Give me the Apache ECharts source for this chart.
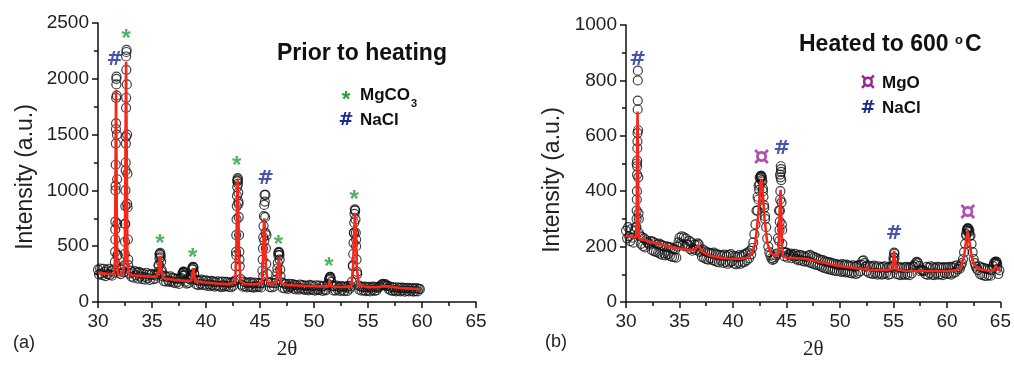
<!DOCTYPE html>
<html><head><meta charset="utf-8">
<script src="https://cdn.jsdelivr.net/npm/echarts@6/dist/echarts.min.js"></script>
<style>html,body{margin:0;padding:0;background:#fff}#c{width:1014px;height:365px}</style>
</head><body><div id="c"></div>
<script>
// ---------- axes / tick labels ----------
const xTicks = [30, 35, 40, 45, 50, 55, 60, 65];
const yTicksA = [0, 500, 1000, 1500, 2000, 2500];
const yTicksB = [0, 200, 400, 600, 800, 1000];

// ---------- panel (a): prior to heating ----------
const scanA_start = 30.0, scanA_step = 0.1;
const scanA_counts = [
 290,248,300,255,240,296,270,232,285,250,
 298,244,276,236,290,262,650,1950,420,262,
 300,250,288,310,268,700,2200,880,330,255,
 282,228,266,218,276,238,264,210,270,228,
 258,205,252,224,200,262,215,247,198,242,
 252,204,244,210,236,250,330,430,400,270,
 230,188,236,182,224,194,180,229,186,216,
 174,212,168,205,180,162,210,215,252,270,
 246,182,165,212,172,203,232,300,312,250,
 198,158,195,151,190,163,200,150,188,155,
 193,144,184,158,141,189,152,182,138,178,
 147,186,142,177,134,183,150,138,180,142,
 178,137,172,132,176,145,180,195,420,1080,
 900,380,205,154,137,183,142,174,131,171,
 138,178,133,166,128,173,140,132,170,138,
 166,131,170,230,550,960,600,250,175,134,
 174,130,168,137,170,200,300,440,420,230,
 176,127,166,122,160,138,118,163,132,140,
 160,120,153,112,149,126,110,157,122,151,
 114,148,108,145,118,104,153,113,146,109,
 141,102,150,116,107,147,110,138,100,145,
 113,105,148,160,205,225,180,143,104,142,
 102,146,111,134,99,143,109,137,98,139,
 131,100,144,120,140,180,320,620,820,560,
 250,150,110,140,101,134,106,138,97,132,
 104,136,96,129,108,138,99,133,105,127,
 135,140,150,158,162,152,160,145,146,118,
 139,104,134,100,128,106,95,132,102,125,
 96,129,102,126,92,123,99,127,94,121,
 100,124,93,120,98,125,95,118,115
];
const peakObsA = [
 [31.56,360],[31.58,450],[31.6,560],[31.61,720],[31.62,1000],[31.63,1040],[31.64,1230],[31.65,1420],[31.66,1550],[31.67,1600],[31.68,1830],[31.7,2000],[31.71,2020],[31.73,1850],[31.75,1500],[31.77,1100],[31.79,700],[31.82,420],
 [32.46,330],[32.48,430],[32.5,540],[32.52,700],[32.53,860],[32.54,1000],[32.56,1180],[32.57,1250],[32.58,1420],[32.59,1480],[32.6,1740],[32.61,1830],[32.62,2080],[32.63,2240],[32.64,2260],[32.67,1950],[32.7,1500],[32.72,1150],[32.74,850],[32.77,560],[32.8,380],
 [35.6,270],[35.65,330],[35.69,390],[35.72,430],[35.76,440],[35.8,420],[35.84,360],[35.88,290],
 [37.82,235],[37.87,262],[37.92,272],[37.97,262],[38.02,236],
 [38.7,240],[38.75,290],[38.8,315],[38.85,305],[38.9,260],
 [42.75,320],[42.78,450],[42.8,600],[42.83,740],[42.85,860],[42.87,950],[42.89,1030],[42.91,1090],[42.93,1110],[42.95,1100],[42.97,1060],[42.99,980],[43.01,880],[43.03,760],[43.06,600],[43.09,450],[43.13,320],
 [45.22,280],[45.25,380],[45.28,480],[45.3,580],[45.33,680],[45.36,770],[45.39,870],[45.42,960],[45.45,900],[45.48,760],[45.51,620],[45.54,480],[45.58,340],
 [46.6,260],[46.65,350],[46.7,420],[46.74,450],[46.78,440],[46.82,380],[46.87,290],
 [51.4,195],[51.45,218],[51.5,225],[51.55,210],
 [53.6,330],[53.63,430],[53.66,530],[53.69,620],[53.72,710],[53.75,790],[53.78,830],[53.81,820],[53.84,740],[53.87,620],[53.9,500],[53.94,380],[53.98,270]
];
const fitA = [
 [30,262],[30.8,252],[31.5,246],[31.58,420],[31.63,1300],[31.67,1900],[31.71,1300],[31.76,420],[31.85,245],[32.0,238],[32.3,242],
 [32.48,380],[32.54,1300],[32.6,2150],[32.66,1300],[32.72,380],[32.85,250],[33.2,240],[34.2,232],[35.4,225],
 [35.62,270],[35.69,360],[35.75,415],[35.81,360],[35.88,260],[36.1,212],[37,200],[38,190],[38.65,192],
 [38.76,260],[38.82,300],[38.88,255],[39.0,188],[40,175],[41,166],[42,160],[42.7,175],
 [42.8,420],[42.87,850],[42.93,1100],[42.99,850],[43.06,420],[43.2,185],[43.6,162],[44.5,158],[45.15,168],
 [45.28,400],[45.35,680],[45.4,750],[45.46,620],[45.53,350],[45.68,175],[46.0,162],[46.52,175],
 [46.65,300],[46.75,400],[46.83,290],[46.95,165],[47.5,152],[49,145],[50.5,140],[51.35,140],
 [51.44,190],[51.48,205],[51.53,185],[51.62,140],[52.5,135],[53.45,140],
 [53.62,320],[53.72,640],[53.8,800],[53.88,630],[53.97,300],[54.15,150],[55,133],[56,134],[56.5,142],[57.1,138],[58,125],[59,120],[59.8,116]
];
const annotA_2theta = [31.57, 32.6, 35.74, 38.77, 42.84, 45.52, 46.7, 51.39, 53.73];
const annotA_counts = [2168, 2408, 573, 448, 1272, 1102, 564, 367, 968];
const annotA_phase  = ['NaCl','MgCO3','MgCO3','MgCO3','MgCO3','NaCl','MgCO3','MgCO3','MgCO3'];

// ---------- panel (b): heated to 600 °C ----------
const scanB_start = 30.0, scanB_step = 0.1;
const scanB_counts = [
 258,230,270,237,220,263,232,214,256,270,
 500,800,300,240,210,234,202,230,197,223,
 216,212,207,220,188,218,184,213,181,208,
 178,211,174,206,170,203,176,168,201,172,
 198,166,196,163,192,162,189,160,200,215,
 232,211,237,205,233,201,229,208,207,221,
 191,215,185,193,207,188,205,212,208,181,
 185,163,189,159,183,155,179,153,177,157,
 175,151,178,148,173,145,171,143,169,149,
 167,141,171,145,165,138,169,143,173,147,
 167,139,165,136,163,142,169,138,165,143,
 171,145,175,151,179,158,185,172,195,215,
 245,280,330,380,420,450,455,440,400,350,
 310,270,230,200,180,168,158,152,155,162,
 168,175,230,330,460,470,260,180,165,178,
 178,160,172,168,175,158,170,165,174,156,
 166,150,170,152,168,148,165,146,162,148,
 167,143,170,141,165,138,162,135,159,133,
 155,131,152,127,151,123,147,121,145,119,
 143,117,141,115,139,113,137,111,135,113,
 133,109,137,111,132,107,135,109,131,105,
 129,103,132,106,127,101,131,105,133,111,
 135,148,150,140,128,111,132,105,129,103,
 127,101,131,105,125,99,129,103,124,99,
 127,101,129,103,123,98,127,101,125,130,
 160,175,120,101,127,99,125,97,123,101,
 125,98,127,101,123,97,126,103,129,128,
 135,142,145,140,130,111,117,113,113,111,
 101,127,98,124,103,129,99,125,97,122,
 103,127,99,125,101,123,97,126,103,124,
 101,125,103,127,99,125,105,129,108,132,
 118,126,120,132,140,155,180,210,240,258,
 265,258,240,210,180,155,140,128,120,115,
 129,101,125,97,123,95,121,93,119,97,
 117,95,115,130,140,145,138,120,101,115
];
const peakObsB = [
 [30.97,270],[30.99,300],[31.0,330],[31.01,370],[31.02,400],[31.03,460],[31.04,490],[31.05,510],[31.06,555],[31.07,580],[31.08,610],[31.09,695],[31.1,727],[31.11,835],[31.13,620],[31.15,450],[31.17,320],[31.19,250],
 [42.3,330],[42.38,370],[42.45,405],[42.5,425],[42.55,445],[42.6,452],[42.65,455],[42.7,450],[42.75,435],[42.8,410],[42.85,380],[42.92,340],[43.0,300],
 [44.32,220],[44.35,260],[44.37,290],[44.39,330],[44.41,370],[44.43,400],[44.45,450],[44.47,490],[44.49,480],[44.51,440],[44.54,360],[44.57,280],[44.61,210],
 [55.02,150],[55.06,178],[55.1,160],
 [61.8,245],[61.85,258],[61.9,265],[61.95,266],[62.0,262],[62.05,252],[62.1,238],
 [64.55,140],[64.6,146],[64.65,144],[64.7,135]
];
const fitB = [
 [30,240],[30.5,236],[30.95,233],[31.0,300],[31.04,550],[31.08,688],[31.12,520],[31.17,260],[31.25,228],[32,220],[33,210],[34,200],[35,193],[36,188],[36.5,190],
 [36.75,205],[36.9,200],[37.2,180],[37.8,168],[38.5,162],[39.5,157],[40.5,155],[41.3,160],[41.8,175],[42.1,215],[42.35,310],[42.55,410],[42.66,445],[42.78,400],[42.95,300],[43.2,215],[43.5,180],[43.9,166],
 [44.25,172],[44.33,280],[44.4,380],[44.45,405],[44.5,340],[44.57,210],[44.65,165],[45,160],[46,158],[46.8,156],[47.5,150],[48.5,142],[49.5,133],[50.5,127],[51.5,122],[52.4,118],[52.55,126],[52.7,116],
 [54,115],[54.95,118],[55.0,160],[55.06,185],[55.13,160],[55.25,118],[56,113],[58,112],[60,112],[60.8,114],[61.3,125],[61.6,165],[61.8,225],[61.94,255],[62.08,225],[62.3,165],[62.6,130],[63,118],
 [64,112],[64.4,115],[64.55,130],[64.63,135],[64.72,125],[64.85,115],[65,113]
];
const annotB_2theta = [31.08, 42.66, 44.57, 55.06, 61.94];
const annotB_counts = [874, 522, 553, 245, 325];
const annotB_phase  = ['NaCl','MgO','NaCl','NaCl','MgO'];

// ---------- styling ----------
const FONT = 'Liberation Sans, Arial, sans-serif';
const PHASE = {
  MgCO3: {glyph: '*', color: '#23a03c', size: 24, dy: 6, font: FONT},
  NaCl:  {glyph: '#', color: '#1c2a96', size: 20, dy: 0, font: 'DejaVu Sans, sans-serif'},
  MgO:   {glyph: '¤', color: '#a0229a', size: 26, dy: 1, font: 'DejaVu Sans, sans-serif'}
};

function scanData(start, step, counts, extra) {
  return counts.map((v, i) => [+(start + i * step).toFixed(2), v]).concat(extra);
}
function annotData(xs, ys, ph) {
  return xs.map((x, i) => ({
    value: [x, ys[i]], name: ph[i],
    label: {color: PHASE[ph[i]].color, fontSize: PHASE[ph[i]].size, fontFamily: PHASE[ph[i]].font, offset: [0, PHASE[ph[i]].dy]}
  }));
}
function xAxis(gi) {
  return {
    type: 'value', gridIndex: gi, min: xTicks[0], max: xTicks[xTicks.length - 1], interval: xTicks[1] - xTicks[0],
    name: '2θ', nameLocation: 'middle', nameGap: 37,
    nameTextStyle: {fontFamily: 'Liberation Serif, serif', fontSize: 21, color: '#222'},
    axisLine: {lineStyle: {color: '#111', width: 1.5}},
    axisTick: {length: 6, lineStyle: {color: '#111', width: 1.5}},
    minorTick: {show: true, splitNumber: 2, length: 4, lineStyle: {color: '#111', width: 1.5}},
    splitLine: {show: false}, minorSplitLine: {show: false},
    axisLabel: {fontSize: 19, color: '#222', margin: 10, fontFamily: FONT, formatter: v => String(v)}
  };
}
function yAxis(gi, ticks) {
  return {
    type: 'value', gridIndex: gi, min: ticks[0], max: ticks[ticks.length - 1], interval: ticks[1] - ticks[0],
    axisLine: {show: true, lineStyle: {color: '#111', width: 1.5}},
    axisTick: {show: true, length: 6, lineStyle: {color: '#111', width: 1.5}},
    minorTick: {show: true, splitNumber: 2, length: 4, lineStyle: {color: '#111', width: 1.5}},
    splitLine: {show: false}, minorSplitLine: {show: false},
    axisLabel: {fontSize: 19, color: '#222', margin: 9, fontFamily: FONT, formatter: v => String(v)}
  };
}
function obsSeries(gi, data) {
  return {type: 'scatter', xAxisIndex: gi, yAxisIndex: gi, data, symbol: 'circle', symbolSize: 9,
    itemStyle: {color: 'rgba(255,255,255,0)', borderColor: '#111', borderWidth: 1.2},
    silent: true, z: 2, animation: false};
}
function fitSeries(gi, data) {
  return {type: 'line', xAxisIndex: gi, yAxisIndex: gi, data, showSymbol: false, symbol: 'none',
    lineStyle: {color: '#f5281c', width: 2.6}, silent: true, z: 3, animation: false};
}
function annotSeries(gi, data) {
  return {type: 'scatter', xAxisIndex: gi, yAxisIndex: gi, data, symbol: 'circle', symbolSize: 1,
    itemStyle: {color: 'rgba(0,0,0,0)'}, silent: true, z: 4, animation: false,
    label: {show: true, position: 'inside', fontWeight: 'bold', fontFamily: FONT,
      formatter: p => PHASE[p.name].glyph}};
}
function legendItems(x, y, rows) {
  const out = [];
  rows.forEach((r, i) => {
    const ph = PHASE[r.phase];
    out.push({type: 'text', x: x, y: y + i * r.gap + (ph.dy * 0.8), style: {text: ph.glyph, fill: ph.color,
      fontFamily: ph.font, fontWeight: 'bold', fontSize: ph.size - 2, align: 'center', verticalAlign: 'middle'}});
    out.push({type: 'text', x: x + 14, y: y + i * r.gap, style: {text: r.text, fill: '#111',
      fontFamily: FONT, fontWeight: 'bold', fontSize: 17, align: 'left', verticalAlign: 'middle',
      rich: {sub: {fontSize: 11, fontWeight: 'bold', fontFamily: FONT, verticalAlign: 'bottom', padding: [0, 0, -6, 1]}}}});
  });
  return out;
}
function yName(x, y) {
  return {type: 'text', x: x, y: y, rotation: Math.PI / 2, style: {text: 'Intensity (a.u.)', fill: '#222',
    fontFamily: FONT, fontSize: 23, align: 'center', verticalAlign: 'middle'}};
}

const chart = echarts.init(document.getElementById('c'), null, {renderer: 'canvas'});
chart.setOption({
  backgroundColor: '#fff',
  animation: false,
  grid: [
    {left: 98, right: 538, top: 23, bottom: 63},
    {left: 626, right: 10, top: 25, bottom: 62}
  ],
  xAxis: [xAxis(0), xAxis(1)],
  yAxis: [yAxis(0, yTicksA), yAxis(1, yTicksB)],
  series: [
    obsSeries(0, scanData(scanA_start, scanA_step, scanA_counts, peakObsA)),
    fitSeries(0, fitA),
    annotSeries(0, annotData(annotA_2theta, annotA_counts, annotA_phase)),
    obsSeries(1, scanData(scanB_start, scanB_step, scanB_counts, peakObsB)),
    fitSeries(1, fitB),
    annotSeries(1, annotData(annotB_2theta, annotB_counts, annotB_phase))
  ],
  graphic: [
    yName(26, 177),
    yName(553, 180),
    {type: 'text', x: 277, y: 54, style: {text: 'Prior to heating', fill: '#111', fontFamily: FONT,
      fontWeight: 'bold', fontSize: 23, verticalAlign: 'middle'}},
    {type: 'text', x: 799, y: 45, style: {text: 'Heated to 600 {sup|o}C', fill: '#111', fontFamily: FONT,
      fontWeight: 'bold', fontSize: 23, verticalAlign: 'middle',
      rich: {sup: {fontSize: 13, fontWeight: 'bold', fontFamily: FONT, verticalAlign: 'top', padding: [0, 2, 8, 0]}}}},
    {type: 'text', x: 13, y: 343, style: {text: '(a)', fill: '#222', fontFamily: FONT, fontSize: 18, verticalAlign: 'middle'}},
    {type: 'text', x: 545, y: 342, style: {text: '(b)', fill: '#222', fontFamily: FONT, fontSize: 18, verticalAlign: 'middle'}}
  ].concat(
    legendItems(346, 95, [{phase: 'MgCO3', text: 'MgCO{sub|3}', gap: 25}, {phase: 'NaCl', text: 'NaCl', gap: 25}]),
    legendItems(868, 83, [{phase: 'MgO', text: 'MgO', gap: 25}, {phase: 'NaCl', text: 'NaCl', gap: 25}])
  )
});
</script>
</body></html>
